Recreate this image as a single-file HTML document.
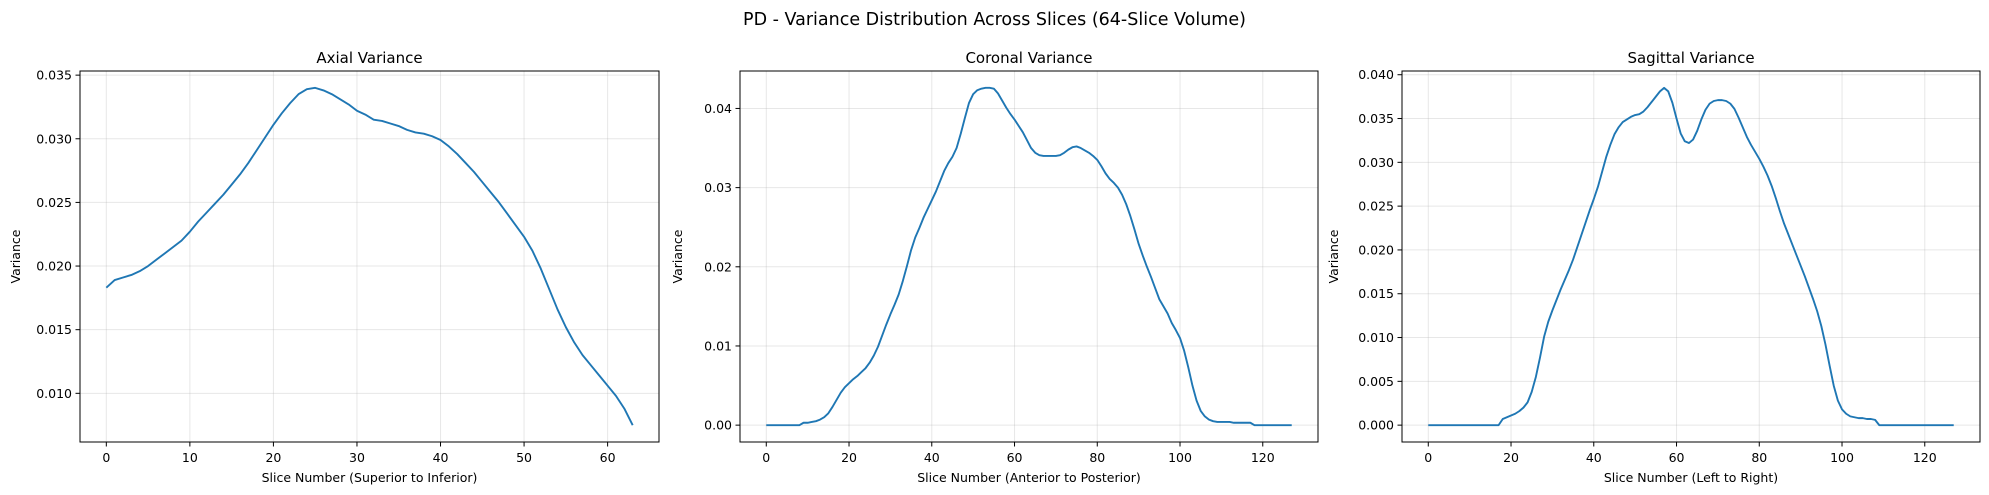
<!DOCTYPE html>
<html><head><meta charset="utf-8"><style>
html,body{margin:0;padding:0;background:#fff}
svg{display:block;font-family:"DejaVu Sans","Liberation Sans",sans-serif}
</style></head><body>
<svg id="fig" width="1989" height="495" viewBox="0 0 1989 495">
<text x="994.5" y="25" text-anchor="middle" font-size="17.5" fill="#000">PD - Variance Distribution Across Slices (64-Slice Volume)</text>
</svg>
<script>
const axialValues = [0.0183,0.0189,0.0191,0.0193,0.0196,0.0200,0.0205,0.0210,0.0215,0.0220,0.0227,0.0235,0.0242,0.0249,0.0256,0.0264,0.0272,0.0281,0.0291,0.0301,0.0311,0.0320,0.0328,0.0335,0.0339,0.0340,0.0338,0.0335,0.0331,0.0327,0.0322,0.0319,0.0315,0.0314,0.0312,0.0310,0.0307,0.0305,0.0304,0.0302,0.0299,0.0294,0.0288,0.0281,0.0274,0.0266,0.0258,0.0250,0.0241,0.0232,0.0223,0.0212,0.0198,0.0182,0.0166,0.0152,0.0140,0.0130,0.0122,0.0114,0.0106,0.0098,0.0088,0.0075];
const coronalValues = [0,0,0,0,0,0,0,0,0,0.0003,0.0003,0.0004,0.0005,0.0007,0.0010,0.0015,0.0023,0.0032,0.0041,0.0048,0.0053,0.0058,0.0062,0.0067,0.0072,0.0079,0.0088,0.0099,0.0113,0.0127,0.0140,0.0152,0.0165,0.0182,0.0201,0.0221,0.0237,0.0249,0.0262,0.0273,0.0284,0.0295,0.0308,0.0321,0.0331,0.0339,0.0350,0.0368,0.0388,0.0407,0.0418,0.0423,0.0425,0.0426,0.0426,0.0425,0.0419,0.0410,0.0401,0.0393,0.0386,0.0378,0.0370,0.0360,0.0350,0.0344,0.0341,0.0340,0.0340,0.0340,0.0340,0.0341,0.0344,0.0348,0.0351,0.0352,0.0350,0.0347,0.0344,0.0340,0.0335,0.0327,0.0318,0.0311,0.0306,0.0300,0.0291,0.0279,0.0264,0.0247,0.0229,0.0214,0.0200,0.0187,0.0173,0.0159,0.0150,0.0141,0.0129,0.0120,0.0110,0.0094,0.0073,0.0050,0.0031,0.0018,0.0011,0.0007,0.0005,0.0004,0.0004,0.0004,0.0004,0.0003,0.0003,0.0003,0.0003,0.0003,0,0,0,0,0,0,0,0,0,0];
const sagittalValues = [0,0,0,0,0,0,0,0,0,0,0,0,0,0,0,0,0,0,0.0007,0.0009,0.0011,0.0013,0.0016,0.0020,0.0026,0.0038,0.0055,0.0077,0.0101,0.0118,0.0131,0.0143,0.0155,0.0166,0.0177,0.0189,0.0203,0.0217,0.0231,0.0245,0.0258,0.0272,0.0289,0.0306,0.0320,0.0332,0.0340,0.0346,0.0349,0.0352,0.0354,0.0355,0.0358,0.0363,0.0369,0.0375,0.0381,0.0385,0.0381,0.0368,0.0350,0.0333,0.0324,0.0322,0.0326,0.0336,0.0349,0.0360,0.0367,0.0370,0.0371,0.0371,0.0370,0.0367,0.0361,0.0351,0.0340,0.0329,0.0320,0.0312,0.0304,0.0295,0.0285,0.0273,0.0259,0.0244,0.0230,0.0218,0.0206,0.0194,0.0182,0.0170,0.0157,0.0144,0.0130,0.0113,0.0092,0.0068,0.0045,0.0028,0.0018,0.0013,0.0010,0.0009,0.0008,0.0008,0.0007,0.0007,0.0006,0,0,0,0,0,0,0,0,0,0,0,0,0,0,0,0,0,0,0];
const axialXTicks = [0,10,20,30,40,50,60];
const wideXTicks = [0,20,40,60,80,100,120];
const axialYTicks = [0.010,0.015,0.020,0.025,0.030,0.035];
const coronalYTicks = [0.00,0.01,0.02,0.03,0.04];
const sagittalYTicks = [0.000,0.005,0.010,0.015,0.020,0.025,0.030,0.035,0.040];
const panelTitles = ["Axial Variance","Coronal Variance","Sagittal Variance"];
const xLabels = ["Slice Number (Superior to Inferior)","Slice Number (Anterior to Posterior)","Slice Number (Left to Right)"];

const NS="http://www.w3.org/2000/svg";
const fig=document.getElementById('fig');
function mk(tag,attrs,parent){const e=document.createElementNS(NS,tag);for(const k in attrs)e.setAttribute(k,attrs[k]);(parent||fig).appendChild(e);return e;}

function panel(key,L,R,values,xt,yt,dec,title,xlabel){
  const T=71,B=442;
  const g=mk('g',{});
  
  
  const n=values.length-1;
  const xm=n*0.05;
  const mn=Math.min(...values),mx=Math.max(...values);
  const ym=(mx-mn)*0.05;
  const x0=-xm,x1=n+xm,y0=mn-ym,y1=mx+ym;
  const sx=v=>L+(v-x0)/(x1-x0)*(R-L);
  const sy=v=>B-(v-y0)/(y1-y0)*(B-T);
  // grid + ticks
  xt.forEach(t=>{
    const x=sx(t);
    const gl=mk('line',{x1:x,x2:x,y1:T,y2:B,stroke:'#b0b0b0','stroke-opacity':0.3,'stroke-width':1},g);
    
    
    mk('line',{x1:x,x2:x,y1:B,y2:B+4.5,stroke:'#000','stroke-width':1},g);
    const tl=mk('text',{x:x,y:B+20,'text-anchor':'middle','font-size':12.5,fill:'#000'},g);
    tl.textContent=String(t);
    
    
  });
  yt.forEach(t=>{
    const y=sy(t);
    const gl=mk('line',{x1:L,x2:R,y1:y,y2:y,stroke:'#b0b0b0','stroke-opacity':0.3,'stroke-width':1},g);
    
    
    mk('line',{x1:L-4.5,x2:L,y1:y,y2:y,stroke:'#000','stroke-width':1},g);
    const tl=mk('text',{x:L-8,y:y+4.5,'text-anchor':'end','font-size':12.5,fill:'#000'},g);
    tl.textContent=t.toFixed(dec);
    
    
  });
  const d=values.map((v,i)=>(i?'L':'M')+sx(i).toFixed(2)+','+sy(v).toFixed(2)).join(' ');
  const line=mk('path',{d:d,fill:'none',stroke:'#1f77b4','stroke-width':1.9,'stroke-linejoin':'round'},g);
  
  
  const fr=mk('rect',{x:L,y:T,width:R-L,height:B-T,fill:'none',stroke:'#000','stroke-width':1},g);
  
  
  const tt=mk('text',{x:(L+R)/2,y:63,'text-anchor':'middle','font-size':15,fill:'#000'},g);
  tt.textContent=title;
  
  
  const xl=mk('text',{x:(L+R)/2,y:482,'text-anchor':'middle','font-size':12.5,fill:'#000'},g);
  xl.textContent=xlabel;
  
  
  const yx=key==='axial'?20:(key==='coronal'?L-58:L-64);
  const yl=mk('text',{x:yx,y:(T+B)/2,'text-anchor':'middle','font-size':12.5,fill:'#000',transform:'rotate(-90 '+yx+' '+((T+B)/2)+')'},g);
  yl.textContent='Variance';
  
  
}
panel('axial',80,659,axialValues,axialXTicks,axialYTicks,3,panelTitles[0],xLabels[0]);
panel('coronal',740,1318,coronalValues,wideXTicks,coronalYTicks,2,panelTitles[1],xLabels[1]);
panel('sagittal',1402,1980,sagittalValues,wideXTicks,sagittalYTicks,3,panelTitles[2],xLabels[2]);
</script>
</body></html>
